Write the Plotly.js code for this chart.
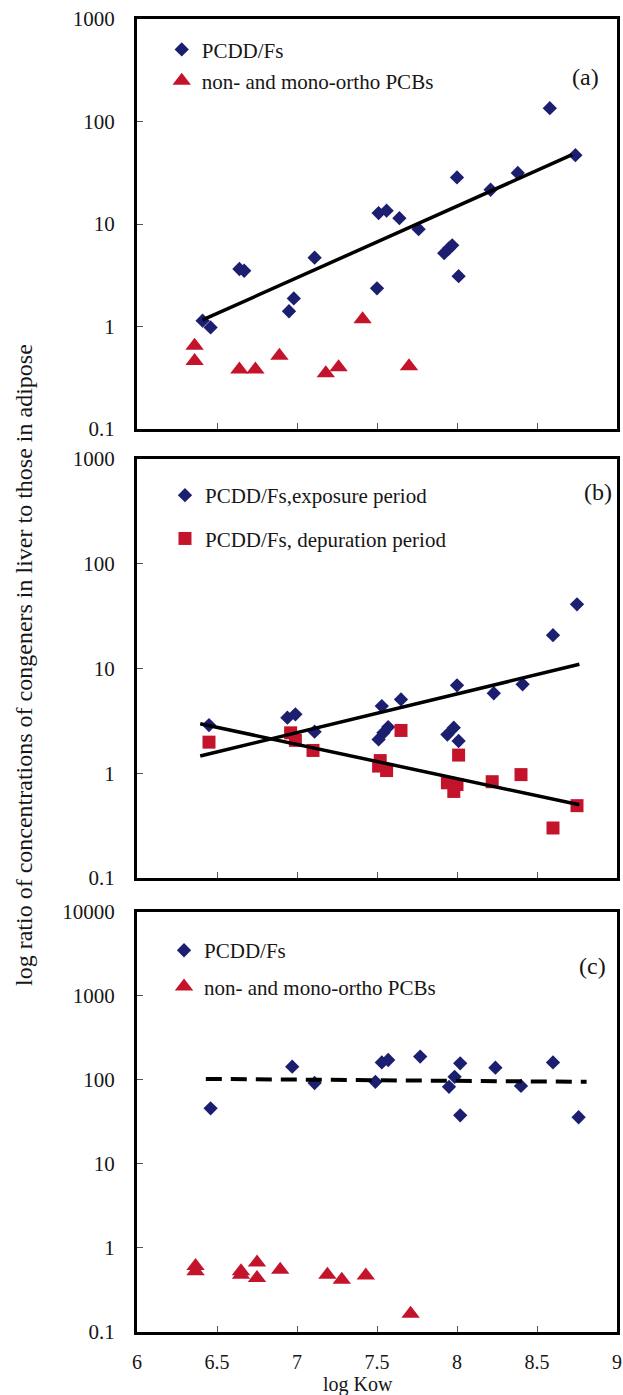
<!DOCTYPE html>
<html>
<head>
<meta charset="utf-8">
<script src="https://cdn.plot.ly/plotly-3.0.1.min.js"></script>
<style>html,body{margin:0;padding:0;background:#fff;}#chart{width:623px;height:1395px;}</style>
</head>
<body>
<div id="chart"></div>
<script>
// ---------- Data ----------
// Panel (a)
const aPcddX = [6.41, 6.46, 6.64, 6.67, 6.95, 6.98, 7.11, 7.50, 7.51, 7.56, 7.64, 7.76, 7.92, 7.95, 7.97, 8.00, 8.01, 8.21, 8.38, 8.58, 8.74];
const aPcddY = [1.14, 0.98, 3.64, 3.5, 1.41, 1.88, 4.7, 2.36, 12.8, 13.5, 11.4, 8.9, 5.2, 5.8, 6.2, 28.5, 3.1, 21.6, 31.5, 135, 47];
const aPcbX = [6.36, 6.36, 6.64, 6.74, 6.89, 7.18, 7.26, 7.41, 7.70];
const aPcbY = [0.65, 0.46, 0.38, 0.38, 0.52, 0.35, 0.40, 1.18, 0.41];
const aTrendX = [6.41, 8.72];
const aTrendY = [1.16, 47.5];

// Panel (b)
const bExpX = [6.45, 6.94, 6.99, 7.11, 7.51, 7.54, 7.57, 7.53, 7.65, 7.94, 7.98, 8.01, 8.00, 8.23, 8.41, 8.60, 8.75];
const bExpY = [2.88, 3.39, 3.65, 2.49, 2.10, 2.43, 2.76, 4.38, 5.07, 2.34, 2.72, 2.03, 6.9, 5.8, 7.06, 20.8, 41];
const bDepX = [6.45, 6.96, 6.99, 7.10, 7.51, 7.52, 7.56, 7.65, 7.94, 7.98, 8.00, 8.01, 8.22, 8.40, 8.60, 8.75];
const bDepY = [1.98, 2.43, 2.06, 1.65, 1.17, 1.32, 1.06, 2.56, 0.81, 0.67, 0.78, 1.49, 0.83, 0.97, 0.30, 0.49];
const bExpTrendX = [6.395, 8.765];
const bExpTrendY = [1.46, 10.96];
const bDepTrendX = [6.395, 8.765];
const bDepTrendY = [2.97, 0.50];

// Panel (c)
const cPcddX = [6.46, 6.97, 7.11, 7.49, 7.53, 7.57, 7.77, 7.95, 7.985, 8.02, 8.02, 8.24, 8.40, 8.60, 8.76];
const cPcddY = [46, 144, 92, 95, 162, 173, 190, 83, 109, 158, 38, 140, 85, 162, 36];
const cPcbX = [6.366, 6.366, 6.65, 6.65, 6.75, 6.75, 6.895, 7.19, 7.28, 7.43, 7.71];
const cPcbY = [0.61, 0.53, 0.53, 0.48, 0.67, 0.44, 0.55, 0.48, 0.42, 0.47, 0.165];
const cTrendX = [6.43, 8.81];
const cTrendY = [103, 95];

// Ticks and labels
const xTickVals = [6, 6.5, 7, 7.5, 8, 8.5, 9];
const xTickText = ['6', '6.5', '7', '7.5', '8', '8.5', '9'];
const yTickValsAB = [0.1, 1, 10, 100, 1000];
const yTickTextAB = ['0.1', '1', '10', '100', '1000'];
const yTickValsC = [0.1, 1, 10, 100, 1000, 10000];
const yTickTextC = ['0.1', '1', '10', '100', '1000', '10000'];

const legendA = ['PCDD/Fs', 'non- and mono-ortho PCBs'];
const legendB = ['PCDD/Fs,exposure period', 'PCDD/Fs, depuration period'];
const legendC = ['PCDD/Fs', 'non- and mono-ortho PCBs'];
const panelLabels = ['(a)', '(b)', '(c)'];
const xTitle = 'log Kow';
const yTitle = 'log ratio of concentrations of congeners in liver to those in adipose';

// ---------- Styling ----------
const FONT = 'Liberation Serif';
const NAVY = 'rgb(28,30,112)';
const RED = 'rgb(196,20,44)';
const TXT = '#161616';

function markerTrace(x, y, xa, ya, symbol, size, color, name, legend, group) {
  return {
    x: x, y: y, xaxis: xa, yaxis: ya, type: 'scatter', mode: 'markers',
    marker: {symbol: symbol, size: size, color: color, line: {width: 0}},
    name: name, legend: legend, legendgroup: group, showlegend: true,
    hoverinfo: 'x+y'
  };
}
function lineTrace(x, y, xa, ya, dash, width) {
  return {
    x: x, y: y, xaxis: xa, yaxis: ya, type: 'scatter', mode: 'lines',
    line: {color: '#000', width: width, dash: dash},
    showlegend: false, hoverinfo: 'skip'
  };
}

const data = [
  markerTrace(aPcddX, aPcddY, 'x', 'y', 'diamond', 11, NAVY, legendA[0], 'legend', 'a1'),
  markerTrace(aPcbX, aPcbY, 'x', 'y', 'triangle-up', 16, RED, legendA[1], 'legend', 'a2'),
  lineTrace(aTrendX, aTrendY, 'x', 'y', 'solid', 3.5),

  markerTrace(bExpX, bExpY, 'x2', 'y2', 'diamond', 11, NAVY, legendB[0], 'legend2', 'b1'),
  markerTrace(bDepX, bDepY, 'x2', 'y2', 'square', 13, RED, legendB[1], 'legend2', 'b2'),
  lineTrace(bExpTrendX, bExpTrendY, 'x2', 'y2', 'solid', 3.5),
  lineTrace(bDepTrendX, bDepTrendY, 'x2', 'y2', 'solid', 3.5),

  markerTrace(cPcddX, cPcddY, 'x3', 'y3', 'diamond', 11, NAVY, legendC[0], 'legend3', 'c1'),
  markerTrace(cPcbX, cPcbY, 'x3', 'y3', 'triangle-up', 16, RED, legendC[1], 'legend3', 'c2'),
  lineTrace(cTrendX, cTrendY, 'x3', 'y3', '16px,9px', 4)
];

function xAxis(anchor, showLabels) {
  return {
    domain: [0, 1], anchor: anchor, range: [6, 9],
    tickmode: 'array', tickvals: xTickVals, ticktext: xTickText,
    ticks: 'inside', ticklen: 6, tickwidth: 1, tickcolor: '#555',
    showline: true, linewidth: 3, linecolor: '#000', mirror: true,
    showgrid: false, zeroline: false, showticklabels: showLabels,
    ticklabelstandoff: 10,
    tickfont: {family: FONT, size: 20, color: TXT}
  };
}
function yAxis(anchor, domain, range, vals, text) {
  return {
    domain: domain, anchor: anchor, type: 'log', range: range,
    tickmode: 'array', tickvals: vals, ticktext: text,
    ticks: 'inside', ticklen: 6, tickwidth: 1, tickcolor: '#555',
    showline: true, linewidth: 3, linecolor: '#000', mirror: true,
    showgrid: false, zeroline: false,
    ticklabelstandoff: 15,
    tickfont: {family: FONT, size: 21, color: TXT}
  };
}
function legendBox(x, y, gap) {
  return {
    x: x, y: y, xanchor: 'left', yanchor: 'top', xref: 'paper', yref: 'paper',
    bgcolor: 'rgba(0,0,0,0)', borderwidth: 0,
    font: {family: FONT, size: 21, color: TXT},
    traceorder: 'grouped', tracegroupgap: gap, itemclick: false
  };
}

const layout = {
  width: 623, height: 1395,
  margin: {l: 137, r: 6, t: 19, b: 63},
  paper_bgcolor: '#fff', plot_bgcolor: '#fff',
  font: {family: FONT, color: TXT},
  xaxis: xAxis('y', false),
  yaxis: yAxis('x', [0.6877, 1], [-1, 3], yTickValsAB, yTickTextAB),
  xaxis2: xAxis('y2', false),
  yaxis2: yAxis('x2', [0.3458, 0.6649], [-1, 3], yTickValsAB, yTickTextAB),
  xaxis3: xAxis('y3', true),
  yaxis3: yAxis('x3', [0, 0.3199], [-1, 4], yTickValsC, yTickTextC),
  legend: legendBox(0.0515, 0.9922, 1),
  legend2: legendBox(0.0583, 0.6527, 13),
  legend3: legendBox(0.0563, 0.3061, 6),
  annotations: [
    {text: panelLabels[0], xref: 'x domain', yref: 'y domain', x: 0.935, y: 0.858, showarrow: false, xanchor: 'center', yanchor: 'middle', font: {family: FONT, size: 24, color: TXT}},
    {text: panelLabels[1], xref: 'x2 domain', yref: 'y2 domain', x: 0.96, y: 0.921, showarrow: false, xanchor: 'center', yanchor: 'middle', font: {family: FONT, size: 24, color: TXT}},
    {text: panelLabels[2], xref: 'x3 domain', yref: 'y3 domain', x: 0.948, y: 0.871, showarrow: false, xanchor: 'center', yanchor: 'middle', font: {family: FONT, size: 24, color: TXT}},
    {text: xTitle, xref: 'paper', yref: 'paper', x: 0.4604, y: -0.0400, showarrow: false, xanchor: 'center', yanchor: 'middle', font: {family: FONT, size: 20, color: TXT}},
    {text: yTitle, xref: 'paper', yref: 'paper', x: -0.2354, y: 0.508, showarrow: false, textangle: -90, xanchor: 'center', yanchor: 'middle', font: {family: FONT, size: 24, color: TXT}}
  ],
  showlegend: true
};

Plotly.newPlot('chart', data, layout, {displayModeBar: false, staticPlot: true});
</script>
</body>
</html>
